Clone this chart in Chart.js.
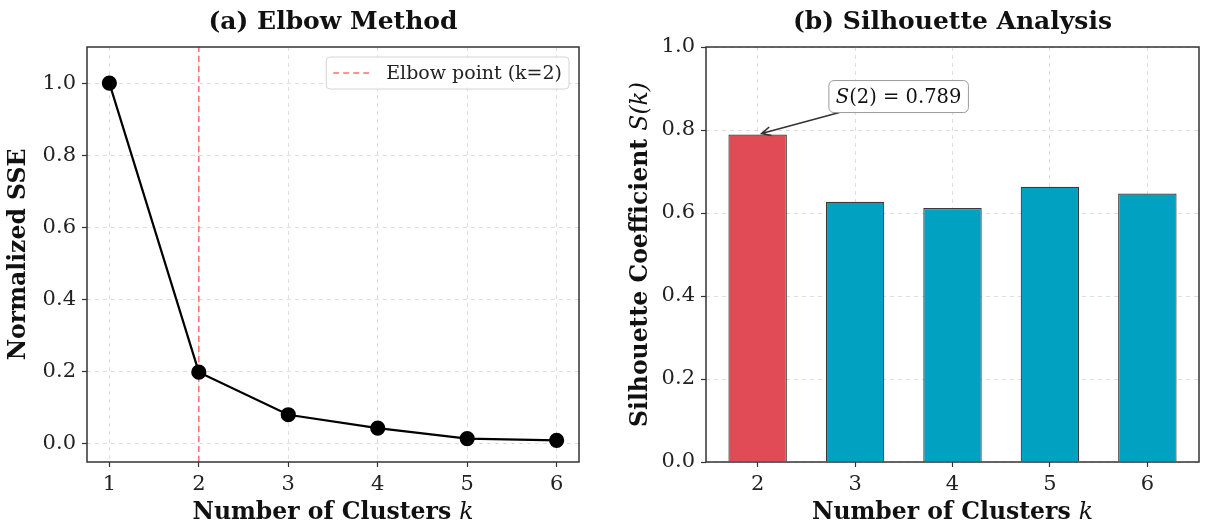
<!DOCTYPE html>
<html>
<head>
<meta charset="utf-8">
<script src="https://cdn.jsdelivr.net/npm/chart.js@4.4.0/dist/chart.umd.min.js"></script>
<style>
  html, body { margin: 0; padding: 0; background: #fff; }
  #wrap { position: relative; width: 1211px; height: 532px; }
  .panel { position: absolute; top: 0; height: 532px; }
  #left { left: 0; width: 600px; }
  #right { left: 600px; width: 611px; }
</style>
</head>
<body>
<div id="wrap">
  <div class="panel" id="left"><canvas id="elbowChart"></canvas></div>
  <div class="panel" id="right"><canvas id="silChart"></canvas></div>
</div>
<script>
// (a) elbow data
const kValues = [1, 2, 3, 4, 5, 6];
const sseValues = [1.0, 0.199, 0.081, 0.044, 0.015, 0.010];
const elbowK = 2;
const sseTicks = [0, 0.2, 0.4, 0.6, 0.8, 1.0];

// (b) silhouette data
const silK = [2, 3, 4, 5, 6];
const silValues = [0.789, 0.627, 0.612, 0.663, 0.647];
const silTicks = [0, 0.2, 0.4, 0.6, 0.8, 1.0];

const FONT = "'DejaVu Serif', 'Liberation Serif', serif";
const redBar = '#E04B55';
const tealBar = '#00A1C1';
const gridColor = 'rgba(0,0,0,0.13)';
const frameColor = '#333';

// draws text made of several font runs, centred on x,y
function drawRich(ctx, parts, x, y, rotate) {
  ctx.save();
  ctx.translate(x, y);
  if (rotate) ctx.rotate(-Math.PI / 2);
  let total = 0;
  parts.forEach(p => { ctx.font = p.font; p.w = ctx.measureText(p.text).width; total += p.w; });
  let cx = -total / 2;
  ctx.textAlign = 'left';
  ctx.textBaseline = 'middle';
  ctx.fillStyle = '#111';
  parts.forEach(p => { ctx.font = p.font; ctx.fillText(p.text, cx, 0); cx += p.w; });
  ctx.restore();
  return total;
}

const boldLbl = 'bold 23.5px ' + FONT;
const italLbl = 'italic 23.5px ' + FONT;

// frame around plot + axis titles with italic math parts
const frameAndTitles = {
  id: 'frameAndTitles',
  afterDraw(chart, args, opts) {
    const { ctx, chartArea: a } = chart;
    ctx.save();
    ctx.strokeStyle = frameColor;
    ctx.lineWidth = 1.5;
    ctx.strokeRect(a.left, a.top, a.right - a.left, a.bottom - a.top);
    ctx.restore();
    drawRich(ctx, opts.xParts, (a.left + a.right) / 2, chart.height - 19, false);
    drawRich(ctx, opts.yParts, opts.yTitleX, (a.top + a.bottom) / 2, true);
  }
};

const elbowLegend = {
  id: 'elbowLegend',
  afterDraw(chart) {
    const { ctx, chartArea } = chart;
    const ds = chart.data.datasets[1];
    ctx.save();
    ctx.font = '19px ' + FONT;
    const tw = ctx.measureText(ds.label).width;
    const w = tw + 67, h = 32;
    const x = chartArea.right - 10 - w, y = chartArea.top + 10;
    ctx.beginPath();
    ctx.roundRect(x, y, w, h, 4);
    ctx.fillStyle = 'rgba(255,255,255,0.85)';
    ctx.fill();
    ctx.strokeStyle = '#d4d4d4';
    ctx.lineWidth = 1;
    ctx.stroke();
    ctx.beginPath();
    ctx.setLineDash(ds.borderDash);
    ctx.strokeStyle = ds.borderColor;
    ctx.lineWidth = ds.borderWidth;
    ctx.moveTo(x + 7, y + h / 2);
    ctx.lineTo(x + 45, y + h / 2);
    ctx.stroke();
    ctx.setLineDash([]);
    ctx.fillStyle = '#222';
    ctx.textBaseline = 'middle';
    ctx.fillText(ds.label, x + 60, y + h / 2 + 1);
    ctx.restore();
  }
};

const bestAnnot = {
  id: 'bestAnnot',
  afterDraw(chart) {
    const { ctx } = chart;
    const xs = chart.scales.x, ys = chart.scales.y;
    const best = Math.max(...silValues);
    const bi = silValues.indexOf(best);
    const tipX = xs.getPixelForValue(silK[bi]) + 4;
    const tipY = ys.getPixelForValue(best) - 1;
    const cx = tipX + 137, cy = tipY - 37;
    const parts = [
      { text: 'S', font: 'italic 19.5px ' + FONT },
      { text: '(' + silK[bi] + ') = ' + best.toFixed(3), font: '19.5px ' + FONT }
    ];
    ctx.save();
    let tw = 0;
    parts.forEach(p => { ctx.font = p.font; tw += ctx.measureText(p.text).width; });
    const bw = tw + 14, bh = 32;
    const bx = cx - bw / 2, by = cy - bh / 2;
    // arrow, clipped at box edge
    const dx = tipX - cx, dy = tipY - cy;
    const t = Math.min((bw / 2) / Math.abs(dx), (bh / 2) / Math.abs(dy));
    const sx = cx + dx * t, sy = cy + dy * t;
    ctx.strokeStyle = '#333';
    ctx.lineWidth = 1.6;
    ctx.beginPath();
    ctx.moveTo(sx, sy);
    ctx.lineTo(tipX, tipY);
    const ang = Math.atan2(tipY - sy, tipX - sx);
    const hl = 10, ha = 0.45;
    ctx.moveTo(tipX - hl * Math.cos(ang - ha), tipY - hl * Math.sin(ang - ha));
    ctx.lineTo(tipX, tipY);
    ctx.lineTo(tipX - hl * Math.cos(ang + ha), tipY - hl * Math.sin(ang + ha));
    ctx.stroke();
    // box
    ctx.beginPath();
    ctx.roundRect(bx, by, bw, bh, 5);
    ctx.fillStyle = '#fff';
    ctx.fill();
    ctx.strokeStyle = '#999';
    ctx.lineWidth = 1;
    ctx.stroke();
    ctx.restore();
    drawRich(ctx, parts, cx, cy + 1, false);
  }
};

function tickFont() { return { family: FONT, size: 21 }; }

new Chart(document.getElementById('elbowChart'), {
  type: 'line',
  data: {
    datasets: [
      {
        label: 'SSE',
        data: kValues.map((k, i) => ({ x: k, y: sseValues[i] })),
        borderColor: '#000',
        borderWidth: 2.2,
        pointRadius: 6.5,
        pointBackgroundColor: '#000',
        pointBorderColor: '#000',
        tension: 0
      },
      {
        label: 'Elbow point (k=' + elbowK + ')',
        data: [{ x: elbowK, y: -0.05 }, { x: elbowK, y: 1.1 }],
        borderColor: 'rgba(255,85,85,0.85)',
        borderWidth: 1.5,
        borderDash: [6, 4],
        pointRadius: 0
      }
    ]
  },
  options: {
    responsive: true,
    maintainAspectRatio: false,
    animation: false,
    layout: { padding: { left: 0, right: 21, top: 0, bottom: 0 } },
    plugins: {
      legend: { display: false },
      tooltip: { enabled: false },
      title: {
        display: true,
        fullSize: false,
        text: '(a) Elbow Method',
        color: '#111',
        font: { family: FONT, size: 25, weight: 'bold' },
        padding: { top: 7, bottom: 10 }
      },
      frameAndTitles: {
        xParts: [{ text: 'Number of Clusters ', font: boldLbl }, { text: 'k', font: italLbl }],
        yParts: [{ text: 'Normalized SSE', font: boldLbl }],
        yTitleX: 19
      }
    },
    scales: {
      x: {
        type: 'linear',
        min: 0.75,
        max: 6.25,
        afterBuildTicks: s => { s.ticks = kValues.map(v => ({ value: v })); },
        afterFit: s => { s.height = 70; },
        ticks: { font: tickFont(), color: '#222', padding: 5, callback: v => String(v) },
        grid: { color: gridColor, lineWidth: 1, tickLength: 5, tickColor: frameColor, tickWidth: 1.2, tickBorderDash: [] },
        border: { display: false, dash: [4, 4] }
      },
      y: {
        type: 'linear',
        min: -0.05,
        max: 1.1,
        afterBuildTicks: s => { s.ticks = sseTicks.map(v => ({ value: v })); },
        afterFit: s => { s.width = 87; },
        ticks: { font: tickFont(), color: '#222', padding: 6, callback: v => v.toFixed(1) },
        grid: { color: gridColor, lineWidth: 1, tickLength: 5, tickColor: frameColor, tickWidth: 1.2, tickBorderDash: [] },
        border: { display: false, dash: [4, 4] }
      }
    }
  },
  plugins: [frameAndTitles, elbowLegend]
});

const bestSil = Math.max(...silValues);

new Chart(document.getElementById('silChart'), {
  type: 'bar',
  data: {
    datasets: [{
      label: 'Silhouette',
      data: silK.map((k, i) => ({ x: k, y: silValues[i] })),
      backgroundColor: silValues.map(v => v === bestSil ? redBar : tealBar),
      borderColor: '#3a3a3a',
      borderWidth: 1.2,
      barPercentage: 0.6,
      categoryPercentage: 1.0
    }]
  },
  options: {
    responsive: true,
    maintainAspectRatio: false,
    animation: false,
    layout: { padding: { left: 0, right: 12, top: 0, bottom: 0 } },
    plugins: {
      legend: { display: false },
      tooltip: { enabled: false },
      title: {
        display: true,
        fullSize: false,
        text: '(b) Silhouette Analysis',
        color: '#111',
        font: { family: FONT, size: 25, weight: 'bold' },
        padding: { top: 7, bottom: 10 }
      },
      frameAndTitles: {
        xParts: [{ text: 'Number of Clusters ', font: boldLbl }, { text: 'k', font: italLbl }],
        yParts: [{ text: 'Silhouette Coefficient ', font: boldLbl }, { text: 'S(k)', font: italLbl }],
        yTitleX: 41
      }
    },
    scales: {
      x: {
        type: 'linear',
        min: 1.47,
        max: 6.53,
        offset: false,
        afterBuildTicks: s => { s.ticks = silK.map(v => ({ value: v })); },
        afterFit: s => { s.height = 70; },
        ticks: { font: tickFont(), color: '#222', padding: 5, callback: v => String(v) },
        grid: { offset: false, color: gridColor, lineWidth: 1, tickLength: 5, tickColor: frameColor, tickWidth: 1.2, tickBorderDash: [] },
        border: { display: false, dash: [4, 4] }
      },
      y: {
        type: 'linear',
        min: 0,
        max: 1.0,
        afterBuildTicks: s => { s.ticks = silTicks.map(v => ({ value: v })); },
        afterFit: s => { s.width = 106; },
        ticks: { font: tickFont(), color: '#222', padding: 6, callback: v => v.toFixed(1) },
        grid: { color: gridColor, lineWidth: 1, tickLength: 5, tickColor: frameColor, tickWidth: 1.2, tickBorderDash: [] },
        border: { display: false, dash: [4, 4] }
      }
    }
  },
  plugins: [frameAndTitles, bestAnnot]
});
</script>
</body>
</html>
